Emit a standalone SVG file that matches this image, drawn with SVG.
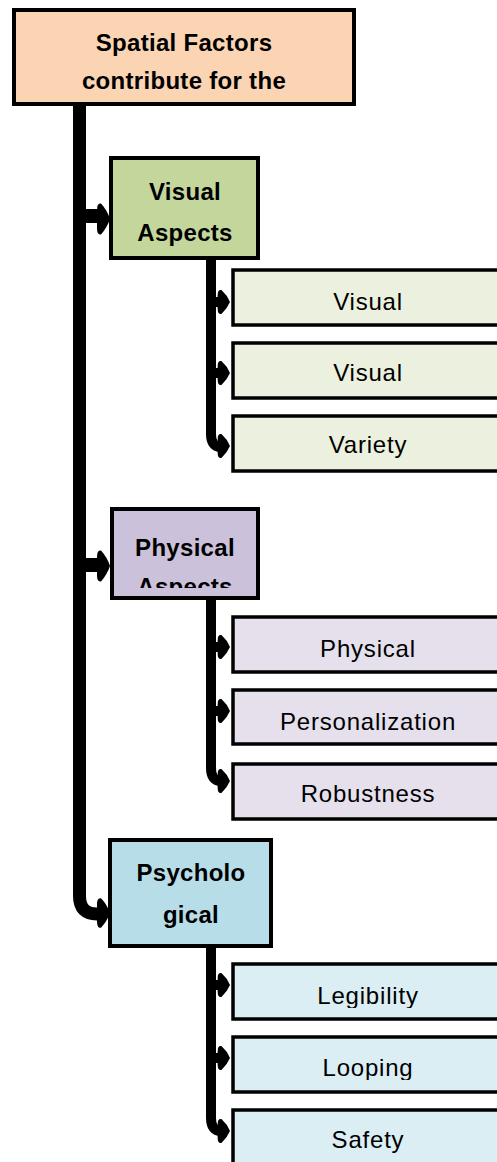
<svg xmlns="http://www.w3.org/2000/svg" width="497" height="1162" viewBox="0 0 497 1162">
<style>
.hd{stroke:#000;stroke-width:4}
.ch{stroke:#000;stroke-width:3.5}
.ht{font-family:"Liberation Sans",Arial,sans-serif;font-weight:bold;font-size:24px;letter-spacing:0.3px;text-anchor:middle;fill:#000}
.ct{font-family:"Liberation Sans",Arial,sans-serif;font-size:24px;letter-spacing:0.8px;text-anchor:middle;fill:#000}
.trunk{fill:none;stroke:#000;stroke-linejoin:round}
</style>
<defs>
<path id="head" d="M-13,-8 Q-13,-15 -9,-14 Q-3,-8 0,0 Q-3,8 -9,14 Q-13,15 -13,8 Z" fill="#000"/>
<clipPath id="cPA"><rect x="112" y="509" width="146" height="79"/></clipPath>
<clipPath id="cLeg"><rect x="233" y="964" width="280" height="44"/></clipPath>
<clipPath id="cLoop"><rect x="233" y="1037" width="280" height="43"/></clipPath>
</defs>
<g id="connectors">
<path class="trunk" stroke-width="13" d="M79.5,104 V896 Q79.5,914 97,914"/>
<line x1="80" y1="216" x2="99" y2="216" stroke="#000" stroke-width="14"/>
<use href="#head" transform="translate(110,219) scale(1,1.1)"/>
<line x1="80" y1="565" x2="99" y2="565" stroke="#000" stroke-width="14"/>
<use href="#head" transform="translate(110,566) scale(1,1.1)"/>
<use href="#head" transform="translate(110,913) scale(1,1.05)"/>

<path class="trunk" stroke-width="10" d="M211,258 V434 Q211,447 221,447"/>
<line x1="211" y1="302" x2="220" y2="302" stroke="#000" stroke-width="10"/>
<use href="#head" transform="translate(230,302) scale(0.95,0.85)"/>
<line x1="211" y1="373" x2="220" y2="373" stroke="#000" stroke-width="10"/>
<use href="#head" transform="translate(230,373) scale(0.95,0.85)"/>
<use href="#head" transform="translate(230,446) scale(0.95,0.85)"/>

<path class="trunk" stroke-width="10" d="M211,598 V768 Q211,781 221,781"/>
<line x1="211" y1="647" x2="220" y2="647" stroke="#000" stroke-width="10"/>
<use href="#head" transform="translate(230,647) scale(0.95,0.85)"/>
<line x1="211" y1="711" x2="220" y2="711" stroke="#000" stroke-width="10"/>
<use href="#head" transform="translate(230,711) scale(0.95,0.85)"/>
<use href="#head" transform="translate(230,781) scale(0.95,0.85)"/>

<path class="trunk" stroke-width="10" d="M211,946 V1118 Q211,1131 221,1131"/>
<line x1="211" y1="985" x2="220" y2="985" stroke="#000" stroke-width="10"/>
<use href="#head" transform="translate(230,985) scale(0.95,0.85)"/>
<line x1="211" y1="1058" x2="220" y2="1058" stroke="#000" stroke-width="10"/>
<use href="#head" transform="translate(230,1058) scale(0.95,0.85)"/>
<use href="#head" transform="translate(230,1131) scale(0.95,0.85)"/>
</g>

<g id="root">
<rect class="hd" x="14" y="10" width="340" height="94" fill="#FBD4B4"/>
<text class="ht" x="184" y="51">Spatial Factors</text>
<text class="ht" x="184" y="89">contribute for the</text>
</g>

<g id="visual-aspects">
<rect class="hd" x="111" y="158" width="147" height="100" fill="#C3D69B"/>
<text class="ht" x="185" y="200">Visual</text>
<text class="ht" x="185" y="241">Aspects</text>
</g>
<g id="visual-1">
<rect class="ch" x="233" y="270" width="280" height="55" fill="#EBF1DE"/>
<text class="ct" x="368" y="310">Visual</text>
</g>
<g id="visual-2">
<rect class="ch" x="233" y="343" width="280" height="55" fill="#EBF1DE"/>
<text class="ct" x="368" y="381">Visual</text>
</g>
<g id="variety">
<rect class="ch" x="233" y="416" width="280" height="55" fill="#EBF1DE"/>
<text class="ct" x="368" y="453">Variety</text>
</g>

<g id="physical-aspects">
<rect class="hd" x="112" y="509" width="146" height="89" fill="#CCC1DA"/>
<text class="ht" x="185" y="556">Physical</text>
<text class="ht" x="185" y="595" clip-path="url(#cPA)">Aspects</text>
</g>
<g id="physical">
<rect class="ch" x="233" y="617" width="280" height="55" fill="#E5E0EC"/>
<text class="ct" x="368" y="657">Physical</text>
</g>
<g id="personalization">
<rect class="ch" x="233" y="690" width="280" height="54" fill="#E5E0EC"/>
<text class="ct" x="368" y="730">Personalization</text>
</g>
<g id="robustness">
<rect class="ch" x="233" y="764" width="280" height="55" fill="#E5E0EC"/>
<text class="ct" x="368" y="802">Robustness</text>
</g>

<g id="psychological">
<rect class="hd" x="110" y="840" width="161" height="106" fill="#B7DEE8"/>
<text class="ht" x="191" y="881">Psycholo</text>
<text class="ht" x="191" y="923">gical</text>
</g>
<g id="legibility">
<rect class="ch" x="233" y="964" width="280" height="55" fill="#DBEEF4"/>
<text class="ct" x="368" y="1004" clip-path="url(#cLeg)">Legibility</text>
</g>
<g id="looping">
<rect class="ch" x="233" y="1037" width="280" height="55" fill="#DBEEF4"/>
<text class="ct" x="368" y="1076" clip-path="url(#cLoop)">Looping</text>
</g>
<g id="safety">
<rect class="ch" x="233" y="1110" width="280" height="60" fill="#DBEEF4"/>
<text class="ct" x="368" y="1148">Safety</text>
</g>
</svg>
